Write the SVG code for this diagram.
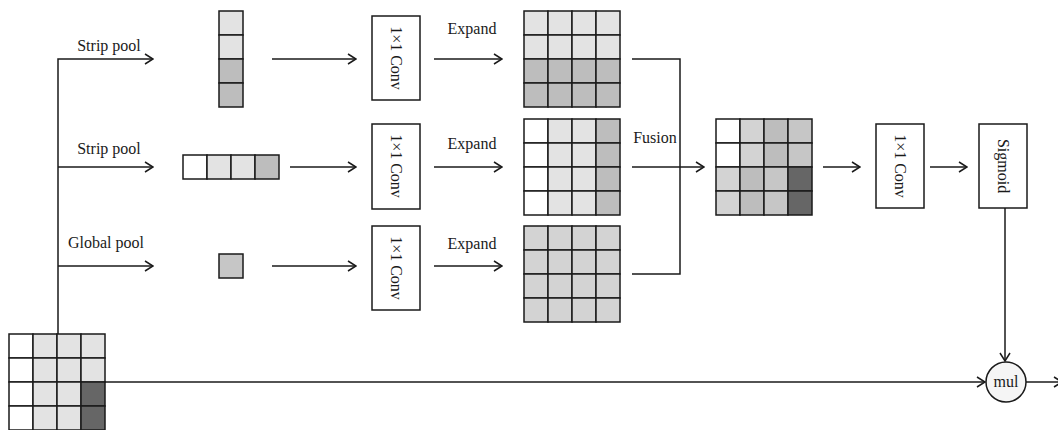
<svg xmlns="http://www.w3.org/2000/svg" width="1058" height="430" viewBox="0 0 1058 430">
<defs>
<style>
.ln{fill:none;stroke:#1a1a1a;stroke-width:1.5}
.c{stroke:#1a1a1a;stroke-width:1.5}
.w{fill:#ffffff}
.l{fill:#e3e3e3}
.m{fill:#bdbdbd}
.g{fill:#d3d3d3}
.h{fill:#c6c6c6}
.d{fill:#666666}
.box{fill:#ffffff;stroke:#1a1a1a;stroke-width:1.5}
.t{font-family:"Liberation Serif","Times New Roman",serif;font-size:16px;fill:#1a1a1a}
</style>
<marker id="arr" viewBox="0 0 10 12" refX="9" refY="6" markerWidth="10" markerHeight="12" markerUnits="userSpaceOnUse" orient="auto">
<path d="M1,1 L9,6 L1,11" fill="none" stroke="#1a1a1a" stroke-width="1.5"/>
</marker>
</defs>
<rect width="1058" height="430" fill="#ffffff"/>

<g id="connectors">
<path class="ln" d="M58,334 V59 H153" marker-end="url(#arr)"/>
<path class="ln" d="M58,167 H153" marker-end="url(#arr)"/>
<path class="ln" d="M58,266 H153" marker-end="url(#arr)"/>
<path class="ln" d="M272,59 H356" marker-end="url(#arr)"/>
<path class="ln" d="M290,167 H356" marker-end="url(#arr)"/>
<path class="ln" d="M272,266 H356" marker-end="url(#arr)"/>
<path class="ln" d="M434,59 H502" marker-end="url(#arr)"/>
<path class="ln" d="M434,167 H502" marker-end="url(#arr)"/>
<path class="ln" d="M434,266 H502" marker-end="url(#arr)"/>
<path class="ln" d="M632,59 H680 V274 H632"/>
<path class="ln" d="M632,167 H704" marker-end="url(#arr)"/>
<path class="ln" d="M823,167 H860" marker-end="url(#arr)"/>
<path class="ln" d="M930,167 H967" marker-end="url(#arr)"/>
<path class="ln" d="M1005,208 V361" marker-end="url(#arr)"/>
<path class="ln" d="M105,382 H985" marker-end="url(#arr)"/>
<path class="ln" d="M1026,382 H1062" marker-end="url(#arr)"/>
</g>

<g id="labels">
<text class="t" x="109" y="51" text-anchor="middle">Strip pool</text>
<text class="t" x="109" y="154" text-anchor="middle">Strip pool</text>
<text class="t" x="106" y="248" text-anchor="middle">Global pool</text>
<text class="t" x="472" y="34" text-anchor="middle">Expand</text>
<text class="t" x="472" y="149" text-anchor="middle">Expand</text>
<text class="t" x="472" y="249" text-anchor="middle">Expand</text>
<text class="t" x="655" y="143" text-anchor="middle">Fusion</text>
</g>

<g id="input-grid">
<rect class="c w" x="9" y="334" width="24" height="24"/><rect class="c l" x="33" y="334" width="24" height="24"/><rect class="c l" x="57" y="334" width="24" height="24"/><rect class="c l" x="81" y="334" width="24" height="24"/>
<rect class="c w" x="9" y="358" width="24" height="24"/><rect class="c l" x="33" y="358" width="24" height="24"/><rect class="c l" x="57" y="358" width="24" height="24"/><rect class="c l" x="81" y="358" width="24" height="24"/>
<rect class="c w" x="9" y="382" width="24" height="24"/><rect class="c l" x="33" y="382" width="24" height="24"/><rect class="c l" x="57" y="382" width="24" height="24"/><rect class="c d" x="81" y="382" width="24" height="24"/>
<rect class="c w" x="9" y="406" width="24" height="24"/><rect class="c l" x="33" y="406" width="24" height="24"/><rect class="c l" x="57" y="406" width="24" height="24"/><rect class="c d" x="81" y="406" width="24" height="24"/>
</g>

<g id="strip-v">
<rect class="c l" x="219" y="11" width="24" height="24"/>
<rect class="c l" x="219" y="35" width="24" height="24"/>
<rect class="c m" x="219" y="59" width="24" height="24"/>
<rect class="c m" x="219" y="83" width="24" height="24"/>
</g>

<g id="strip-h">
<rect class="c w" x="183" y="155" width="24" height="24"/>
<rect class="c l" x="207" y="155" width="24" height="24"/>
<rect class="c l" x="231" y="155" width="24" height="24"/>
<rect class="c m" x="255" y="155" width="24" height="24"/>
</g>

<g id="global">
<rect class="c h" x="219" y="254" width="24" height="24"/>
</g>

<g id="conv1">
<rect class="box" x="372" y="16" width="48" height="84"/>
<text class="t" transform="translate(396,58) rotate(90)" text-anchor="middle" dy="5">1×1 Conv</text>
</g>
<g id="conv2">
<rect class="box" x="372" y="124" width="48" height="85"/>
<text class="t" transform="translate(396,166) rotate(90)" text-anchor="middle" dy="5">1×1 Conv</text>
</g>
<g id="conv3">
<rect class="box" x="372" y="226" width="48" height="84"/>
<text class="t" transform="translate(396,268) rotate(90)" text-anchor="middle" dy="5">1×1 Conv</text>
</g>

<g id="grid-top">
<rect class="c l" x="524" y="11" width="24" height="24"/><rect class="c l" x="548" y="11" width="24" height="24"/><rect class="c l" x="572" y="11" width="24" height="24"/><rect class="c l" x="596" y="11" width="24" height="24"/>
<rect class="c l" x="524" y="35" width="24" height="24"/><rect class="c l" x="548" y="35" width="24" height="24"/><rect class="c l" x="572" y="35" width="24" height="24"/><rect class="c l" x="596" y="35" width="24" height="24"/>
<rect class="c m" x="524" y="59" width="24" height="24"/><rect class="c m" x="548" y="59" width="24" height="24"/><rect class="c m" x="572" y="59" width="24" height="24"/><rect class="c m" x="596" y="59" width="24" height="24"/>
<rect class="c m" x="524" y="83" width="24" height="24"/><rect class="c m" x="548" y="83" width="24" height="24"/><rect class="c m" x="572" y="83" width="24" height="24"/><rect class="c m" x="596" y="83" width="24" height="24"/>
</g>

<g id="grid-mid">
<rect class="c w" x="524" y="119" width="24" height="24"/><rect class="c l" x="548" y="119" width="24" height="24"/><rect class="c l" x="572" y="119" width="24" height="24"/><rect class="c m" x="596" y="119" width="24" height="24"/>
<rect class="c w" x="524" y="143" width="24" height="24"/><rect class="c l" x="548" y="143" width="24" height="24"/><rect class="c l" x="572" y="143" width="24" height="24"/><rect class="c m" x="596" y="143" width="24" height="24"/>
<rect class="c w" x="524" y="167" width="24" height="24"/><rect class="c l" x="548" y="167" width="24" height="24"/><rect class="c l" x="572" y="167" width="24" height="24"/><rect class="c m" x="596" y="167" width="24" height="24"/>
<rect class="c w" x="524" y="191" width="24" height="24"/><rect class="c l" x="548" y="191" width="24" height="24"/><rect class="c l" x="572" y="191" width="24" height="24"/><rect class="c m" x="596" y="191" width="24" height="24"/>
</g>

<g id="grid-bot">
<rect class="c g" x="524" y="226" width="24" height="24"/><rect class="c g" x="548" y="226" width="24" height="24"/><rect class="c g" x="572" y="226" width="24" height="24"/><rect class="c g" x="596" y="226" width="24" height="24"/>
<rect class="c g" x="524" y="250" width="24" height="24"/><rect class="c g" x="548" y="250" width="24" height="24"/><rect class="c g" x="572" y="250" width="24" height="24"/><rect class="c g" x="596" y="250" width="24" height="24"/>
<rect class="c g" x="524" y="274" width="24" height="24"/><rect class="c g" x="548" y="274" width="24" height="24"/><rect class="c g" x="572" y="274" width="24" height="24"/><rect class="c g" x="596" y="274" width="24" height="24"/>
<rect class="c g" x="524" y="298" width="24" height="24"/><rect class="c g" x="548" y="298" width="24" height="24"/><rect class="c g" x="572" y="298" width="24" height="24"/><rect class="c g" x="596" y="298" width="24" height="24"/>
</g>

<g id="grid-fused">
<rect class="c w" x="716" y="119" width="24" height="24"/><rect class="c g" x="740" y="119" width="24" height="24"/><rect class="c m" x="764" y="119" width="24" height="24"/><rect class="c h" x="788" y="119" width="24" height="24"/>
<rect class="c w" x="716" y="143" width="24" height="24"/><rect class="c g" x="740" y="143" width="24" height="24"/><rect class="c m" x="764" y="143" width="24" height="24"/><rect class="c h" x="788" y="143" width="24" height="24"/>
<rect class="c g" x="716" y="167" width="24" height="24"/><rect class="c m" x="740" y="167" width="24" height="24"/><rect class="c h" x="764" y="167" width="24" height="24"/><rect class="c d" x="788" y="167" width="24" height="24"/>
<rect class="c g" x="716" y="191" width="24" height="24"/><rect class="c m" x="740" y="191" width="24" height="24"/><rect class="c h" x="764" y="191" width="24" height="24"/><rect class="c d" x="788" y="191" width="24" height="24"/>
</g>

<g id="conv4">
<rect class="box" x="876" y="124" width="48" height="84"/>
<text class="t" transform="translate(900,166) rotate(90)" text-anchor="middle" dy="5">1×1 Conv</text>
</g>

<g id="sigmoid">
<rect class="box" x="979" y="124" width="48" height="84"/>
<text class="t" transform="translate(1003,166) rotate(90)" text-anchor="middle" dy="5">Sigmoid</text>
</g>

<g id="mul">
<circle cx="1006" cy="382" r="20" fill="#f5f5f5" stroke="#1a1a1a" stroke-width="1.5"/>
<text class="t" x="1006" y="387" text-anchor="middle" font-size="14">mul</text>
</g>
</svg>
